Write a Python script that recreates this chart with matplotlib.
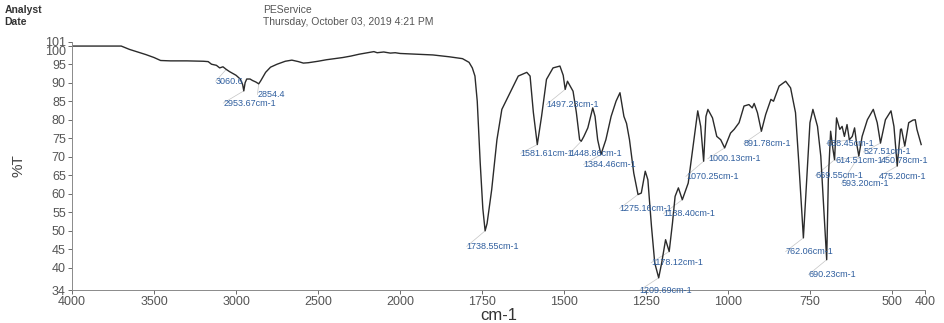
import numpy as np
import matplotlib
matplotlib.use("Agg")
import matplotlib.pyplot as plt

# ---------------- data ----------------
wavenumber = [4000, 3800, 3700, 3650, 3600, 3550, 3500, 3460, 3400, 3300, 3200, 3170, 3150, 3120,
              3100, 3080, 3060, 3040, 3020, 3000, 2975, 2960, 2953, 2945, 2935, 2915, 2900, 2880,
              2862, 2850, 2820, 2790, 2750, 2700, 2660, 2620, 2590, 2560, 2500, 2450, 2400, 2350,
              2300, 2250, 2200, 2160, 2140, 2100, 2060, 2030, 2000, 1950, 1900, 1850, 1810, 1790,
              1780, 1772, 1765, 1756, 1748, 1741, 1735, 1721, 1705, 1690, 1670, 1640, 1614, 1604,
              1594, 1582, 1569, 1554, 1534, 1513, 1503, 1497, 1490, 1473, 1463, 1453, 1448, 1440,
              1428, 1413, 1406, 1398, 1388, 1373, 1357, 1342, 1330, 1318, 1310, 1301, 1288, 1275,
              1265, 1253, 1245, 1234, 1224, 1212, 1203, 1191, 1180, 1170, 1162, 1152, 1140, 1122,
              1107, 1093, 1084, 1075, 1068, 1062, 1048, 1035, 1023, 1011, 993, 982, 967, 952, 937,
              927, 921, 911, 899, 886, 870, 862, 845, 825, 810, 795, 785, 771, 761, 751, 742, 728,
              718, 708, 700, 695, 688, 681, 676, 670, 660, 653, 646, 638, 631, 622, 615, 609, 602,
              592, 576, 558, 546, 536, 521, 504, 495, 485, 475, 472, 462, 450, 437, 430, 425, 412]
transmittance = [99.9, 99.9, 99.9, 99.0, 98.3, 97.6, 96.8, 96.0, 95.9, 95.9, 95.8, 95.7, 95.0, 94.7,
                 94.0, 94.3, 93.6, 93.0, 92.5, 92.0, 91.0, 89.5, 87.8, 90.0, 91.0, 91.0, 90.6, 90.2,
                 89.7, 90.5, 92.8, 94.2, 95.0, 95.8, 96.1, 95.7, 95.3, 95.4, 95.8, 96.2, 96.5, 96.8,
                 97.2, 97.7, 98.1, 98.4, 98.1, 98.3, 98.0, 98.1, 97.9, 97.7, 97.5, 97.0, 96.5, 95.5,
                 94.0, 91.8, 85.0, 68.4, 56.0, 50.0, 52.0, 61.1, 74.6, 82.8, 86.4, 91.8, 92.8, 91.8,
                 82.0, 73.3, 80.9, 90.9, 94.0, 94.5, 92.0, 88.2, 90.4, 87.7, 82.0, 74.6, 74.2, 75.5,
                 77.8, 83.2, 80.9, 74.6, 70.6, 74.6, 80.9, 85.0, 87.3, 80.9, 79.0, 74.6, 65.6, 59.8,
                 60.2, 66.1, 63.8, 51.2, 41.3, 37.3, 41.3, 47.6, 44.4, 52.1, 59.3, 61.6, 58.4, 62.9,
                 72.9, 82.4, 78.2, 68.8, 80.9, 82.8, 80.5, 75.5, 74.6, 72.4, 76.4, 77.4, 79.2, 83.7, 84.1,
                 83.2, 84.4, 81.9, 76.9, 81.4, 85.5, 85.0, 89.1, 90.4, 88.6, 81.9, 68.4, 48.1, 63.8, 79.2, 82.8, 78.2,
                 70.2, 54.8, 42.2, 63.8, 76.9, 72.1, 69.2, 80.5, 77.4, 78.2, 75.5, 78.7, 74.6, 75.5, 77.8, 73.7, 70.2,
                 75.5, 80.0, 82.8, 79.2, 73.7, 80.0, 82.4, 78.2, 67.5, 77.4, 77.5, 72.9, 79.2, 79.9, 80.0, 77.4, 73.3]

peak_labels = ["3060.6", "2854.4", "2953.67cm-1", "1738.55cm-1", "1581.61cm-1", "1448.86cm-1",
               "1497.23cm-1", "1384.46cm-1", "1275.16cm-1", "1138.40cm-1", "1178.12cm-1",
               "1209.69cm-1", "1070.25cm-1", "1000.13cm-1", "891.78cm-1", "762.06cm-1",
               "690.23cm-1", "638.45cm-1", "527.51cm-1", "614.51cm-1", "450.78cm-1",
               "669.55cm-1", "593.20cm-1", "475.20cm-1"]
peak_values = [3060.6, 2854.4, 2953.67, 1738.55, 1581.61, 1448.86, 1497.23, 1384.46, 1275.16,
               1138.40, 1178.12, 1209.69, 1070.25, 1000.13, 891.78, 762.06, 690.23, 638.45,
               527.51, 614.51, 450.78, 669.55, 593.20, 475.20]
# label text anchor (left edge, vertical centre) in data coordinates
label_x = [3125, 2870, 3078, 1797, 1633, 1484, 1554, 1441, 1332, 1198, 1235, 1271, 1129, 1062,
           953, 825, 755, 701, 588, 673, 536, 734, 655, 540]
label_y = [90.4, 86.8, 84.5, 45.8, 70.9, 70.9, 84.1, 67.9, 56.0, 54.6, 41.4, 33.9, 64.7, 69.5,
           73.6, 44.4, 38.2, 73.6, 71.3, 69.0, 69.0, 64.9, 62.7, 64.7]

x_ticks = [4000, 3500, 3000, 2500, 2000, 1750, 1500, 1250, 1000, 750, 500, 400]
y_ticks = [34, 40, 45, 50, 55, 60, 65, 70, 75, 80, 85, 90, 95, 100, 101]

# ---------------- plot ----------------
plt.rcParams['font.family'] = ['Liberation Sans', 'DejaVu Sans']

fig = plt.figure(figsize=(9.44, 3.23), dpi=100)
ax = fig.add_axes([0.0763, 0.102, 0.9037, 0.768])


def fwd(x):
    x = np.asarray(x, float)
    return np.where(x > 2000, 2000 + (x - 2000) / 2.0, x)


def inv(y):
    y = np.asarray(y, float)
    return np.where(y > 2000, 2000 + (y - 2000) * 2.0, y)


ax.set_xscale('function', functions=(fwd, inv))
wn = np.array(wavenumber, float)
tr = np.array(transmittance, float)
ax.plot(wn, tr, color='#2b2b2b', lw=1.0)
ax.set_xlim(4000, 400)
ax.set_ylim(34, 101)

ax.set_xticks(x_ticks, [str(t) for t in x_ticks])
ax.set_yticks(y_ticks, [str(t) for t in y_ticks])
ax.xaxis.set_minor_locator(matplotlib.ticker.NullLocator())
ax.tick_params(axis='both', labelsize=9, colors='#555555', length=3, width=0.6, pad=1.5)
for lab in ax.get_yticklabels():
    if lab.get_text() == '100':
        lab.set_verticalalignment('top')

for s in ['top', 'right']:
    ax.spines[s].set_visible(False)
for s in ['left', 'bottom']:
    ax.spines[s].set_color('#8a8a8a')
    ax.spines[s].set_linewidth(0.7)

ax.set_xlabel('cm-1', fontsize=12, color='#333333', labelpad=0)
ax.set_ylabel('%T', fontsize=11, color='#444444', labelpad=14)

# peak annotations
for text, pv, lx, ly in zip(peak_labels, peak_values, label_x, label_y):
    mask = np.abs(wn - pv) <= 15
    idx = np.where(mask)[0]
    j = idx[np.argmin(tr[idx])]
    ax.plot([wn[j], lx], [tr[j], ly], color='#c4c4c4', lw=0.5, zorder=1)
    ax.text(lx, ly, text, fontsize=6.5, color='#2f5e9e', ha='left', va='center',
            clip_on=False, zorder=3)

# header
fig.text(0.005, 0.969, 'Analyst', fontsize=7.5, color='#333333', weight='bold', va='center')
fig.text(0.005, 0.932, 'Date', fontsize=7.5, color='#333333', weight='bold', va='center')
fig.text(0.279, 0.969, 'PEService', fontsize=7.5, color='#555555', va='center')
fig.text(0.279, 0.932, 'Thursday, October 03, 2019 4:21 PM', fontsize=7.5, color='#555555',
         va='center')

fig.savefig('out.png', dpi=100)
